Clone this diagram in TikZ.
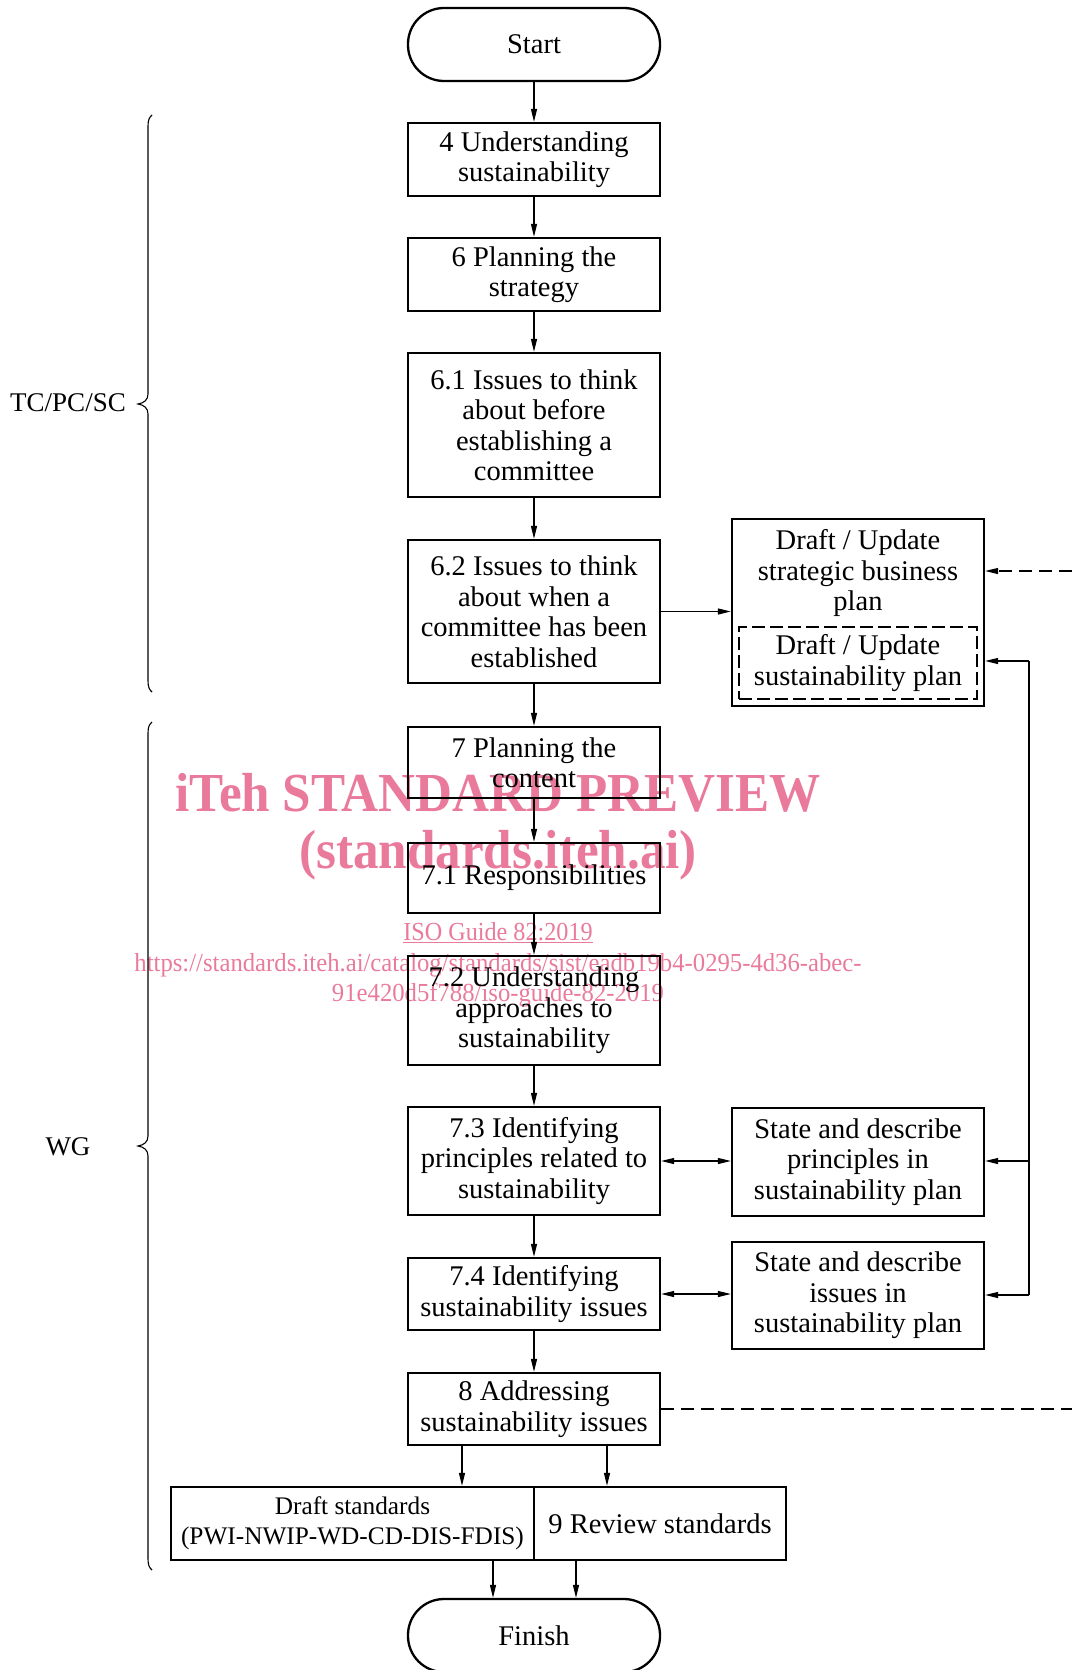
\documentclass[tikz,border=0pt]{standalone}
\usepackage{fontspec}
\setmainfont{Liberation Serif}
\usetikzlibrary{arrows.meta}
\definecolor{wm}{RGB}{234,122,156}
\begin{document}
\begin{tikzpicture}[x=1pt,y=-1pt,
  txt/.style={font=\fontsize{28.5}{30.5}\selectfont, align=center},
  box/.style={txt, draw, line width=2.3pt, minimum width=252pt, inner sep=2pt},
  term/.style={box, rounded corners=36pt, minimum height=73pt},
  conn/.style={line width=1.1pt, -{Triangle[length=13pt,width=6pt]}},
  dconn/.style={line width=1.1pt, {Triangle[length=13pt,width=6pt]}-{Triangle[length=13pt,width=6pt]}},
  dashline/.style={line width=1.1pt, dash pattern=on 13pt off 7pt},
  brc/.style={line width=1.1pt},
  wmbig/.style={text=wm, inner sep=0pt, font=\fontsize{55}{60}\selectfont\bfseries},
  wmsmall/.style={text=wm, inner sep=0pt, font=\fontsize{26}{30}\selectfont}
]
\useasboundingbox (0,0) rectangle (1072,1670);

% watermark (behind)
\node[wmbig] (wm1) at (498,793) {\scalebox{0.93}[1]{iTeh STANDARD PREVIEW}};
\node[wmbig] (wm2) at (498,855) {\scalebox{0.93}[1]{(standards.iteh.ai)}};
\node[wmsmall] (wm3) at (498,933) {\scalebox{0.93}[1]{\underline{ISO Guide 82:2019}}};
\node[wmsmall] (wm4) at (498,965) {\scalebox{0.95}[1]{https://standards.iteh.ai/catalog/standards/sist/eadb19b4-0295-4d36-abec-}};
\node[wmsmall] (wm5) at (498,995) {\scalebox{0.95}[1]{91e420d5f788/iso-guide-82-2019}};

% main column
\node[term] (start) at (534,44.5) {Start};
\node[box, minimum height=73pt] (b4) at (534,159.5) {4 Understanding\\sustainability};
\node[box, minimum height=73pt] (b6) at (534,274.5) {6 Planning the\\strategy};
\node[box, minimum height=144pt] (b61) at (534,425) {6.1 Issues to think\\about before\\establishing a\\committee};
\node[box, minimum height=143pt] (b62) at (534,611.5) {6.2 Issues to think\\about when a\\committee has been\\established};
\node[box, minimum height=71pt] (b7) at (534,762.5) {7 Planning the\\content};
\node[box, minimum height=70pt] (b71) at (534,878) {7.1 Responsibilities};
\node[box, minimum height=109pt] (b72) at (534,1010.5) {7.2 Understanding\\approaches to\\sustainability};
\node[box, minimum height=108pt] (b73) at (534,1161) {7.3 Identifying\\principles related to\\sustainability};
\node[box, minimum height=72pt] (b74) at (534,1294) {7.4 Identifying\\sustainability issues};
\node[box, minimum height=72pt] (b8) at (534,1409) {8 Addressing\\sustainability issues};
\node[box, minimum width=363pt, minimum height=73pt, font=\fontsize{25.3}{30.5}\selectfont] (draft) at (352.5,1523.5) {Draft standards\\(PWI-NWIP-WD-CD-DIS-FDIS)};
\node[box, minimum height=73pt] (rev) at (660,1523.5) {9 Review standards};
\node[term] (fin) at (534,1635.5) {Finish};

% right column
\node[box, minimum height=187pt] (plan) at (858,612.5) {};
\node[txt, inner sep=0pt] (sbp) at (858,573) {Draft / Update\\strategic business\\plan};
\node[txt, draw, line width=1.1pt, dash pattern=on 13pt off 5pt, minimum width=238pt, minimum height=72pt, inner sep=0pt] (spl) at (858,663) {Draft / Update\\sustainability plan};
\node[box, minimum height=108pt] (sp) at (858,1162) {State and describe\\principles in\\sustainability plan};
\node[box, minimum height=107pt] (si) at (858,1295.5) {State and describe\\issues in\\sustainability plan};

% side labels
\node[txt, font=\fontsize{27}{30.5}\selectfont] (tc) at (68,403) {TC/PC/SC};
\node[txt, font=\fontsize{27}{30.5}\selectfont] (wg) at (68,1147) {WG};

% braces
\draw[brc] (152,115) .. controls (149.5,117) and (148,120) .. (148,126) -- (148,394)
  .. controls (148,400) and (144,403) .. (138,404)
  .. controls (144,405) and (148,408) .. (148,414) -- (148,681)
  .. controls (148,687) and (149.5,690) .. (152,692);
\draw[brc] (152,722) .. controls (149.5,724) and (148,727) .. (148,733) -- (148,1136)
  .. controls (148,1142) and (144,1145) .. (138,1146)
  .. controls (144,1147) and (148,1150) .. (148,1156) -- (148,1559)
  .. controls (148,1565) and (149.5,1568) .. (152,1570);

% vertical flow
\draw[conn] (start.south) -- (b4.north);
\draw[conn] (b4.south) -- (b6.north);
\draw[conn] (b6.south) -- (b61.north);
\draw[conn] (b61.south) -- (b62.north);
\draw[conn] (b62.south) -- (b7.north);
\draw[conn] (b7.south) -- (b71.north);
\draw[conn] (b71.south) -- (b72.north);
\draw[conn] (b72.south) -- (b73.north);
\draw[conn] (b73.south) -- (b74.north);
\draw[conn] (b74.south) -- (b8.north);

\coordinate (a1) at ([xshift=-72pt]b8.south);
\coordinate (a2) at ([xshift=73pt]b8.south);
\draw[conn] (a1) -- (a1 |- draft.north);
\draw[conn] (a2) -- (a2 |- rev.north);
\coordinate (d1) at ([xshift=-41pt]fin.north);
\coordinate (d2) at ([xshift=42pt]fin.north);
\draw[conn] (d1 |- draft.south) -- (d1);
\draw[conn] (d2 |- rev.south) -- (d2);

% horizontal links
\draw[conn] (b62.east) -- (b62.east -| plan.west);
\draw[dconn] (b73.east) -- (b73.east -| sp.west);
\draw[dconn] (b74.east) -- (b74.east -| si.west);

% feedback bus
\coordinate (v1) at (1029,661);
\coordinate (v2) at (1029,1161);
\coordinate (v3) at (1029,1295);
\draw[line width=1.1pt] (v1) -- (v3);
\draw[conn] (v1) -- (v1 -| plan.east);
\draw[conn] (v2) -- (v2 -| sp.east);
\draw[conn] (v3) -- (v3 -| si.east);

% dashed links off the right edge
\coordinate (e1) at (1072,571);
\coordinate (e2) at (1072,1410);
\draw[conn, dashline] (e1) -- (e1 -| plan.east);
\draw[dashline] (b8.east) -- (b8.east -| e2);
\end{tikzpicture}
\end{document}
